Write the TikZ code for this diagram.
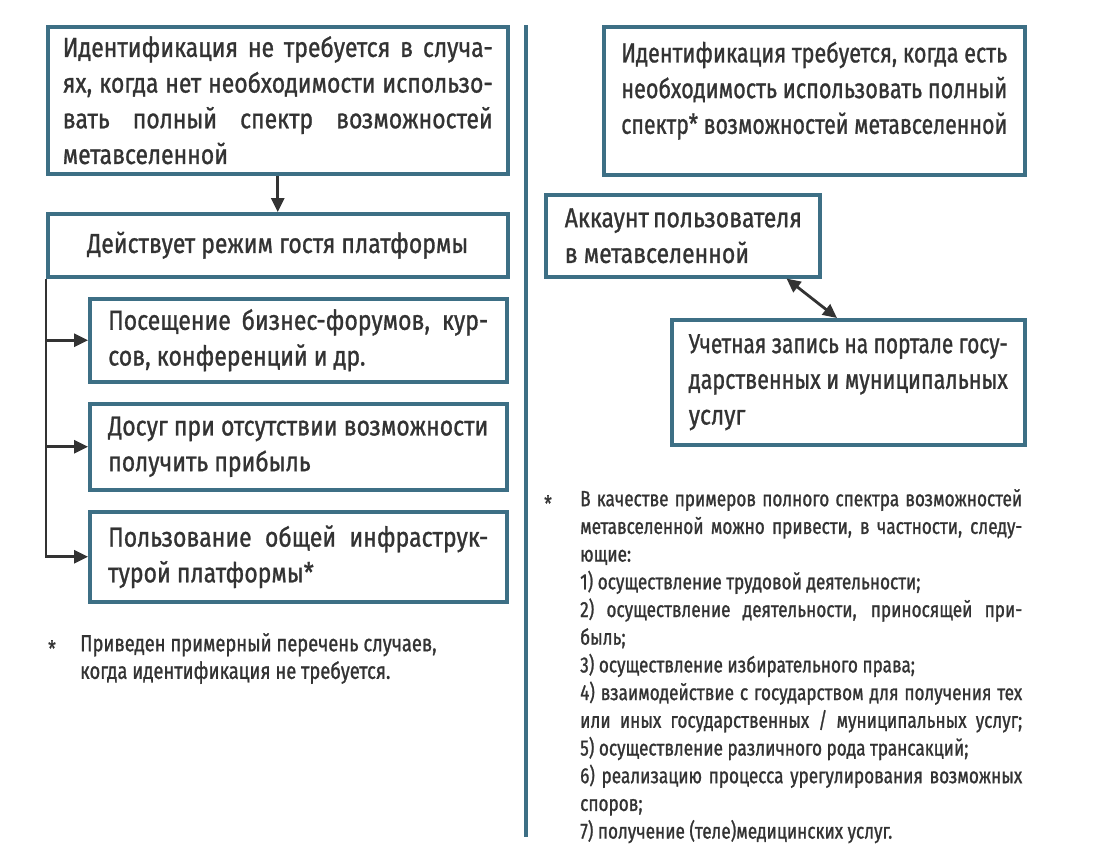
\documentclass[tikz,border=0pt]{standalone}
\usepackage{fontspec}
\usepackage{graphicx}
\setmainfont{Fira Sans}[FakeStretch=0.836,FakeBold=1]
\newfontfamily\notefont{Fira Sans}[FakeStretch=0.78,FakeBold=1]
\usetikzlibrary{arrows.meta}
\definecolor{boxc}{HTML}{3D6F85}
\definecolor{txt}{HTML}{333333}
\newcommand\bigf{\fontsize{27.5}{35.7}\selectfont}
\newcommand\smallf{\notefont\fontsize{22}{27.7}\selectfont}
\newcommand\leftnotef{\notefont\fontsize{23.5}{27.5}\selectfont}
\newsavebox\linebox
\newcommand\J[1]{\sbox\linebox{#1}\ifdim\wd\linebox>\hsize
  \hbox to\hsize{\resizebox{\hsize}{\height}{\usebox\linebox}}\else
  \hbox to\hsize{#1}\fi}
\newcommand\N[1]{\sbox\linebox{#1}\ifdim\wd\linebox>\hsize
  \hbox to\hsize{\resizebox{\hsize}{\height}{\usebox\linebox}}\else
  \hbox{#1}\fi}
\tikzset{
  box/.style={draw=boxc, line width=3.5pt, text=txt, anchor=north west, inner ysep=0pt},
  note/.style={text=txt, inner sep=0pt},
  conn/.style={draw=txt, line width=2.8pt, -{Triangle[length=14pt,width=13pt]}},
  dconn/.style={draw=txt, line width=2.8pt, {Triangle[length=14pt,width=13pt]}-{Triangle[length=14pt,width=13pt]}},
  divider/.style={draw=boxc, line width=3.5pt}
}
\begin{document}
\begin{tikzpicture}[x=1pt,y=-1pt]
\fill[white] (0,0) rectangle (1100,860);
\useasboundingbox (0,0) rectangle (1100,860);

% left column
\node[box, inner xsep=15pt, minimum height=147pt] (L1) at (46,25)
  {\parbox{430pt}{\bigf\J{Идентификация не требуется в случа-}\J{ях, когда нет необходимости использо-}\J{вать полный спектр возможностей}\N{метавселенной}}};
\node[box, minimum width=460pt, minimum height=63pt] (L2) at (46,212)
  {\bigf Действует режим гостя платформы};
\node[box, inner xsep=18.5pt, minimum height=83pt] (L3) at (88,297)
  {\parbox{380pt}{\bigf\J{Посещение бизнес-форумов, кур-}\N{сов, конференций и др.}}};
\node[box, inner xsep=18.5pt, minimum height=86pt] (L4) at (88,402)
  {\parbox{380pt}{\bigf\J{Досуг при отсутствии возможности}\N{получить прибыль}}};
\node[box, inner xsep=18.5pt, minimum height=90pt] (L5) at (88,510)
  {\parbox{380pt}{\bigf\J{Пользование общей инфраструк-}\N{турой платформы*}}};

\draw[conn] (L1.south) -- (L2.north);
\draw[conn] (L2.south west) |- (L5.west);
\draw[conn] (L2.south west |- L3.west) -- (L3.west);
\draw[conn] (L2.south west |- L4.west) -- (L4.west);

\node[note, anchor=north] (FLs) at (52,640) {\smallf *};
\node[note, anchor=north west] (FL) at (80,633)
  {\parbox{440pt}{\leftnotef\N{Приведен примерный перечень случаев,}\N{когда идентификация не требуется.}}};

% divider
\draw[divider] (526,25) -- (526,837);

% right column
\node[box, inner xsep=17.5pt] (R1) at (602,25)
  {\parbox[c][148pt][t]{386pt}{\bigf\vspace*{15pt}\J{Идентификация требуется, когда есть}\J{необходимость использовать полный}\N{спектр* возможностей метавселенной}}};
\node[box, inner xsep=19pt, minimum height=82pt] (R2) at (544,193)
  {\parbox{251pt}{\bigf\hbox to 236pt{Аккаунт\hfil\ пользователя}\N{в метавселенной}}};
\node[box, inner xsep=17pt, minimum height=125pt] (R3) at (670,318)
  {\parbox{319pt}{\bigf\J{Учетная запись на портале госу-}\J{дарственных и муниципальных}\N{услуг}}};

\draw[dconn] ([xshift=-35pt]R2.south east) -- ([xshift=167pt]R3.north west);

\node[note, anchor=north] (FRs) at (548,495) {\smallf *};
\node[note, anchor=north west] (FR) at (580,489)
  {\parbox{442pt}{\smallf
   \J{В качестве примеров полного спектра возможностей}
   \J{метавселенной можно привести, в частности, следу-}
   \N{ющие:}
   \N{1) осуществление трудовой деятельности;}
   \J{2) осуществление деятельности, приносящей при-}
   \N{быль;}
   \N{3) осуществление избирательного права;}
   \J{4) взаимодействие с государством для получения тех}
   \J{или иных государственных / муниципальных услуг;}
   \N{5) осуществление различного рода трансакций;}
   \J{6) реализацию процесса урегулирования возможных}
   \N{споров;}
   \N{7) получение (теле)медицинских услуг.}}};
\end{tikzpicture}
\end{document}
